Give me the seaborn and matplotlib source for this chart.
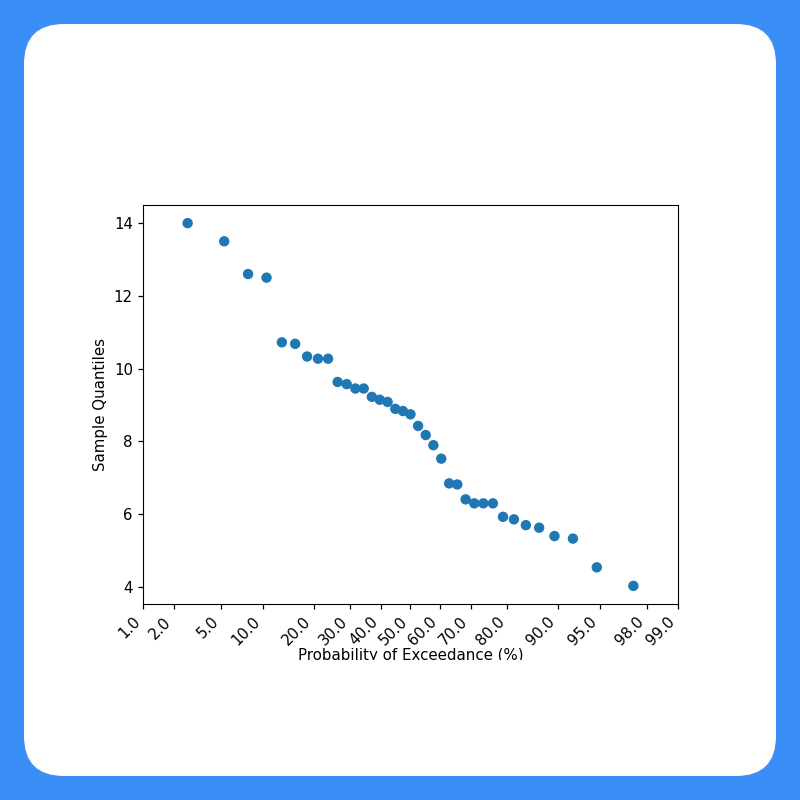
from statistics import NormalDist
import numpy as np
import pandas as pd
import matplotlib
matplotlib.use("Agg")
import matplotlib.pyplot as plt
from matplotlib.patches import FancyBboxPatch
from matplotlib.transforms import Bbox, TransformedBbox
import seaborn as sns

# sample values, sorted high to low
quantiles = [14.0, 13.5, 12.6, 12.5, 10.72, 10.68, 10.33, 10.27, 10.27, 9.63,
             9.57, 9.45, 9.45, 9.22, 9.14, 9.08, 8.89, 8.83, 8.74, 8.42,
             8.17, 7.89, 7.52, 6.84, 6.81, 6.4, 6.29, 6.29, 6.29, 5.92,
             5.85, 5.69, 5.62, 5.39, 5.32, 4.53, 4.02]
# exceedance probability (%) of each point
exceedance = [2.63, 5.26, 7.89, 10.53, 13.16, 15.79, 18.42, 21.05, 23.68, 26.32,
              28.95, 31.58, 34.21, 36.84, 39.47, 42.11, 44.74, 47.37, 50.0, 52.63,
              55.26, 57.89, 60.53, 63.16, 65.79, 68.42, 71.05, 73.68, 76.32, 78.95,
              81.58, 84.21, 86.84, 89.47, 92.11, 94.74, 97.37]
tick_probs = [1, 2, 5, 10, 20, 30, 40, 50, 60, 70, 80, 90, 95, 98, 99]

df = pd.DataFrame({"exceedance": exceedance, "quantile": quantiles})

nd = NormalDist()


def _ppf_one(p):
    if not np.isfinite(p):
        return np.nan
    return nd.inv_cdf(min(max(p / 100.0, 1e-9), 1 - 1e-9))


def _cdf_one(z):
    if not np.isfinite(z):
        return np.nan
    return nd.cdf(z) * 100.0


# normal probability (probit) scale for the x axis
ppf = np.vectorize(_ppf_one, otypes=[float])
cdf = np.vectorize(_cdf_one, otypes=[float])

fig = plt.figure(figsize=(8, 8), dpi=100)
fig.patch.set_facecolor("#3a8ef5")
card = FancyBboxPatch((24 / 800, 24 / 800), 752 / 800, 752 / 800,
                      boxstyle="round,pad=0,rounding_size=0.05",
                      transform=fig.transFigure, facecolor="white",
                      edgecolor="none", zorder=-10)
fig.patches.append(card)

ax = fig.add_axes([143 / 800, 196 / 800, 535 / 800, 399 / 800])
ax.set_xscale("function", functions=(ppf, cdf))
sns.scatterplot(data=df, x="exceedance", y="quantile", ax=ax, s=56,
                color="#1f77b4", edgecolor="none", linewidth=0)

fs = 10.8
ax.set_xlim(1, 99)
ax.set_xticks(tick_probs)
ax.set_xticklabels([f"{t:.1f}" for t in tick_probs], rotation=45, ha="right",
                   fontsize=fs)
ax.xaxis.set_minor_locator(matplotlib.ticker.NullLocator())
ax.set_yticks([4, 6, 8, 10, 12, 14])
ax.tick_params(axis="y", labelsize=fs)
ax.tick_params(length=3.8, width=0.9)
ax.set_xlabel("Probability of Exceedance (%)", fontsize=fs, labelpad=0)
ax.set_ylabel("Sample Quantiles", fontsize=fs)

# the source figure was cropped just under the x label
clip = TransformedBbox(Bbox.from_extents(0, 140 / 800, 1, 1), fig.transFigure)
ax.xaxis.label.set_clip_box(clip)
ax.xaxis.label.set_clip_on(True)

fig.savefig("out.png", dpi=100)
